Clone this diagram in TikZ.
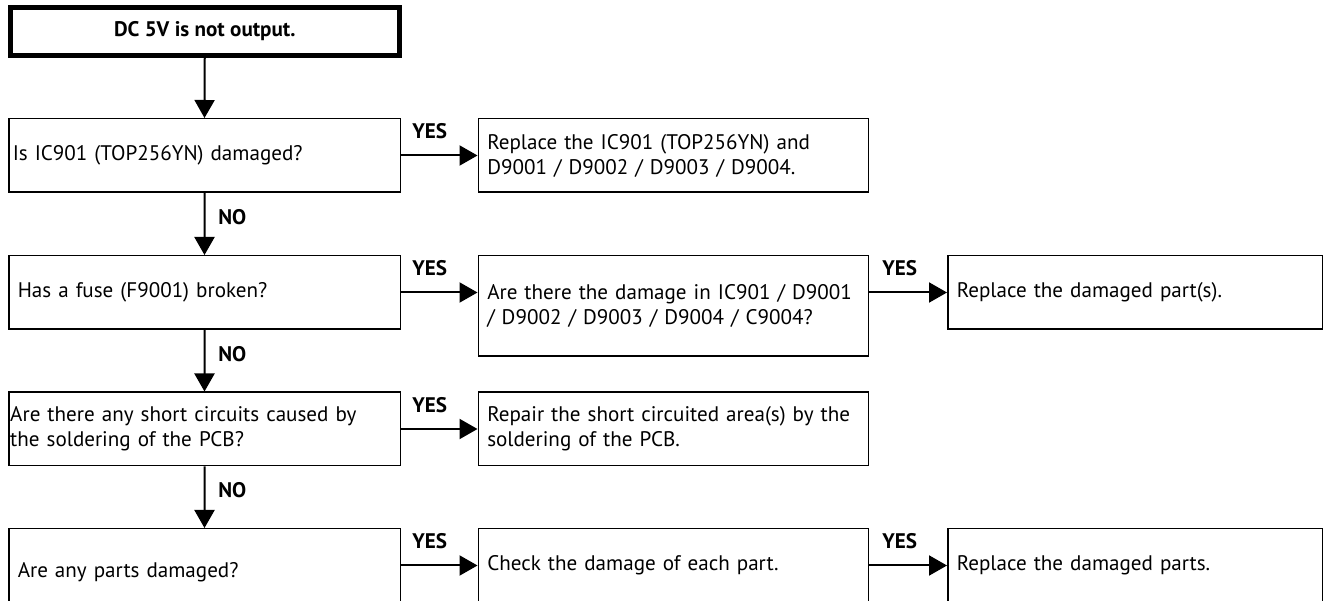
\documentclass[tikz,border=0pt]{standalone}
\usepackage{fontspec}
\setmainfont{PT Sans}
\usetikzlibrary{positioning}
\usetikzlibrary{arrows.meta,calc}
\tikzset{
    %Define standard arrow tip
    >={Triangle[length=0.36cm,width=0.4cm]},
    % Define arrow style
    flow/.style={
           ->,
           color=black,
           line width=0.04cm,}
}
\newcommand{\rowheight}{1.47cm}

\begin{document}
\begin{tikzpicture}[font=\fontsize{12pt}{14.2pt}\selectfont]
\tikzstyle{startbox}=[draw=black, fill=white, rectangle, line width=0.1cm,
    minimum height=0.96cm, minimum width=7.78cm, align=center, font=\fontsize{12pt}{14.2pt}\selectfont\bfseries]
%
\tikzstyle{askbox}=[draw=black, fill=white, rectangle, line width=0.03cm,
    minimum height=\rowheight, inner xsep=0.18cm, text width=7.47cm, anchor=west, align=left]
%
\tikzstyle{fixbox}=[draw=black, fill=white, rectangle, line width=0.03cm,
    minimum height=\rowheight, inner xsep=0.18cm, text width=7.44cm, anchor=west, align=left]
%
\tikzstyle{endbox}=[draw=black, fill=white, rectangle, line width=0.03cm,
    minimum height=\rowheight, inner xsep=0.18cm, text width=7.13cm, anchor=west, align=left]
%
\tikzstyle{answer}=[inner sep=0pt, font=\fontsize{12pt}{14.2pt}\selectfont\bfseries]

\useasboundingbox (0cm,0cm) rectangle (26.64cm,-12.02cm);
\clip (0cm,0cm) rectangle (26.64cm,-12.02cm);
\fill[white] (0cm,0cm) rectangle (26.64cm,-12.02cm);

\node[startbox] (start) at (4.095cm,-0.63cm) {DC 5V is not output.};

\node[askbox, inner xsep=0.08cm, text width=7.67cm] (q1) at (0.16cm,-3.11cm) {Is IC901 (TOP256YN) damaged?};
\node[fixbox] (a1) at (9.55cm,-3.11cm) {Replace the IC901 (TOP256YN) and\\ D9001 / D9002 / D9003 / D9004.};

\node[askbox] (q2) at (0.16cm,-5.85cm) {Has a fuse (F9001) broken?};
\node[fixbox, minimum height=2.01cm] (a2) at (9.55cm,-6.12cm) {Are there the damage in IC901 / D9001\\ / D9002 / D9003 / D9004 / C9004?};
\node[endbox] (r2) at (18.94cm,-5.85cm) {Replace the damaged part(s).};

\node[askbox, inner xsep=0.03cm, text width=7.77cm] (q3) at (0.16cm,-8.58cm) {Are there any short circuits caused by\\ the soldering of the PCB?};
\node[fixbox] (a3) at (9.55cm,-8.58cm) {Repair the short circuited area(s) by the\\ soldering of the PCB.};

\node[askbox, minimum height=1.72cm] (q4) at (0.16cm,-11.435cm) {Are any parts damaged?};
\node[fixbox] (a4) at (9.55cm,-11.31cm) {Check the damage of each part.};
\node[endbox] (r4) at (18.94cm,-11.31cm) {Replace the damaged parts.};

% NO branches down the left column
\path[flow] (start.south) edge (q1.north);
\path[flow] (q1.south) edge (q2.north);
\path[flow] (q2.south) edge (q3.north);
\path[flow] (q3.south) edge (q4.north);

% YES branches to the right
\path[flow] (q1.east) edge (q1.east -| a1.west);
\path[flow] (q2.east) edge (q2.east -| a2.west);
\coordinate (yes2) at (q2.east -| a2.east);
\path[flow] (yes2) edge (r2.west);
\path[flow] (q3.east) edge (q3.east -| a3.west);
\coordinate (yes4) at (a4.west -| q4.east);
\path[flow] (yes4) edge (a4.west);
\path[flow] (a4.east) edge (r4.west);

\node[answer, above right=0.32cm and 0.22cm of q1.east] {YES};
\node[answer, above right=0.32cm and 0.22cm of q2.east] {YES};
\node[answer, above right=0.32cm and 0.26cm of yes2] {YES};
\node[answer, above right=0.32cm and 0.22cm of q3.east] {YES};
\node[answer, above right=0.32cm and 0.22cm of yes4] {YES};
\node[answer, above right=0.32cm and 0.26cm of a4.east] {YES};

\node[answer, below right=0.32cm and 0.27cm of q1.south] {NO};
\node[answer, below right=0.32cm and 0.27cm of q2.south] {NO};
\node[answer, below right=0.32cm and 0.27cm of q3.south] {NO};

\end{tikzpicture}
\end{document}
